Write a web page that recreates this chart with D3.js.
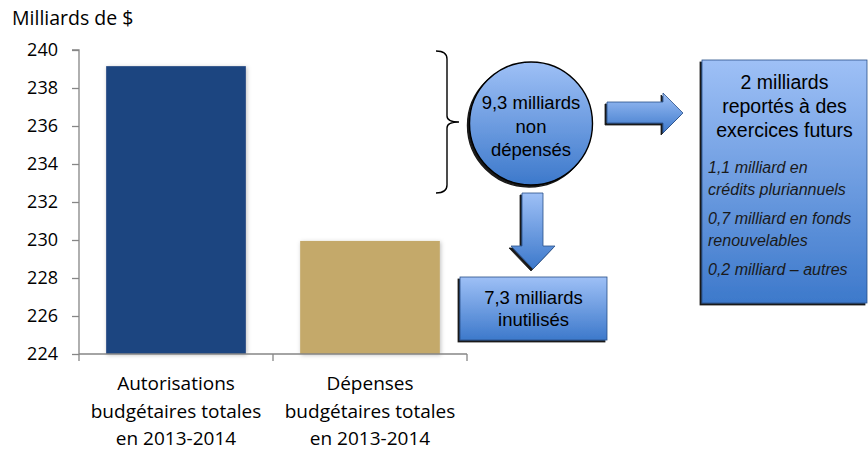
<!DOCTYPE html>
<html><head><meta charset="utf-8">
<script src="https://cdn.jsdelivr.net/npm/d3@7"></script>
<style>body{margin:0;background:#fff}svg{display:block}</style>
</head><body>
<svg id="c" width="868" height="453"></svg>
<script>
const categories = ["Autorisations budgétaires totales en 2013-2014", "Dépenses budgétaires totales en 2013-2014"];
const categoryLines = [["Autorisations", "budgétaires totales", "en 2013-2014"], ["Dépenses", "budgétaires totales", "en 2013-2014"]];
const values = [239.15, 229.95];
const barColors = ["#1F4480", "#C4A96B"];
const yTicks = [224, 226, 228, 230, 232, 234, 236, 238, 240];
const yTitle = "Milliards de $";
const circleText = ["9,3 milliards", "non", "dépensés"];
const unusedText = ["7,3 milliards", "inutilisés"];
const carriedTitle = ["2 milliards", "reportés à des", "exercices futurs"];
const carriedDetails = [["1,1 milliard en", "crédits pluriannuels"], ["0,7 milliard en fonds", "renouvelables"], ["0,2 milliard – autres"]];

const svg = d3.select("#c");
const defs = svg.append("defs");
const g1 = defs.append("linearGradient").attr("id","bg").attr("x1",0).attr("y1",0).attr("x2",0).attr("y2",1);
g1.append("stop").attr("offset","0%").attr("stop-color","#9EC0F6");
g1.append("stop").attr("offset","100%").attr("stop-color","#3D79CB");
const f1 = defs.append("filter").attr("id","sh").attr("x","-20%").attr("y","-20%").attr("width","140%").attr("height","140%");
f1.append("feDropShadow").attr("dx",-2).attr("dy",2).attr("stdDeviation",0.6).attr("flood-color","#000").attr("flood-opacity",0.9);
const f2 = defs.append("filter").attr("id","bsh").attr("x","-10%").attr("y","-10%").attr("width","120%").attr("height","120%");
f2.append("feDropShadow").attr("dx",1).attr("dy",1).attr("stdDeviation",2).attr("flood-color","#000").attr("flood-opacity",0.25);

const axisFont = "'Open Sans', 'Noto Sans', sans-serif";
const arial = "'Liberation Sans', Arial, sans-serif";

const x0 = 79, x1 = 467, yTop = 50, yBot = 354;
const y = d3.scaleLinear().domain([224, 240]).range([yBot, yTop]);
const x = d3.scaleBand().domain(categories).range([x0, x1]).paddingInner(0.28).paddingOuter(0.14);

// title
svg.append("text").attr("x", 12).attr("y", 25).attr("font-family", axisFont).attr("font-size", 19.5).attr("fill","#000").text(yTitle);

// bars
svg.selectAll("rect.bar").data(values).join("rect").attr("class","bar")
  .attr("x", (d,i)=>x(categories[i])).attr("width", x.bandwidth())
  .attr("y", d=>y(d)).attr("height", d=>yBot - y(d))
  .attr("fill", (d,i)=>barColors[i]).attr("filter","url(#bsh)");

// y axis
const ya = svg.append("g").attr("transform",`translate(${x0},0)`)
  .call(d3.axisLeft(y).tickValues(yTicks).tickSize(7).tickPadding(14).tickFormat(d3.format("d")));
ya.select(".domain").attr("stroke","#868686").attr("stroke-width",1.3).attr("d", `M-7,${yTop}H0V${yBot}`);
ya.selectAll(".tick line").attr("stroke","#868686").attr("stroke-width",1.3);
ya.selectAll(".tick text").attr("font-family", axisFont).attr("font-size", 18).attr("fill","#000");

// x axis
const xg = svg.append("g");
xg.append("line").attr("x1", x0).attr("x2", x1).attr("y1", yBot).attr("y2", yBot).attr("stroke","#868686").attr("stroke-width",1.3);
const boundaries = [x0, (x(categories[0]) + x.bandwidth() + x(categories[1]))/2, x1];
xg.selectAll("line.t").data(boundaries).join("line").attr("class","t")
  .attr("x1", d=>d).attr("x2", d=>d).attr("y1", yBot).attr("y2", yBot+7).attr("stroke","#868686").attr("stroke-width",1.3);
categoryLines.forEach((lines, i) => {
  const cx = x(categories[i]) + x.bandwidth()/2;
  const t = svg.append("text").attr("text-anchor","middle").attr("font-family", axisFont).attr("font-size", 19).attr("fill","#000");
  lines.forEach((l, j) => t.append("tspan").attr("x", cx).attr("y", 390 + j*27.5).text(l));
});

// brace
const bTop = y(240) + 1, bBot = 193, bMid = (bTop + bBot)/2, bx = 447;
svg.append("path").attr("fill","none").attr("stroke","#000").attr("stroke-width",1.4)
  .attr("d", `M436,${bTop} Q${bx},${bTop} ${bx},${bTop+8} L${bx},${bMid-6} Q${bx},${bMid} ${bx+12},${bMid} Q${bx},${bMid} ${bx},${bMid+6} L${bx},${bBot-8} Q${bx},${bBot} 436,${bBot}`);

// circle
const cx = 531, cy = 123.5, r = 61.5;
svg.append("circle").attr("cx",cx).attr("cy",cy).attr("r",r).attr("fill","url(#bg)").attr("stroke","#000").attr("stroke-width",1.4).attr("filter","url(#sh)");
const ct = svg.append("text").attr("text-anchor","middle").attr("font-family", arial).attr("font-size",18.5).attr("fill","#000");
circleText.forEach((l,j)=>ct.append("tspan").attr("x",cx).attr("y",109 + j*23.5).text(l));

// right arrow
svg.append("path").attr("fill","url(#bg)").attr("stroke","#2a4f88").attr("stroke-width",0.8).attr("filter","url(#sh)")
  .attr("d","M607,102 L663,102 L663,93 L683,113 L663,133 L663,123 L607,123 Z");

// down arrow
svg.append("path").attr("fill","url(#bg)").attr("stroke","#2a4f88").attr("stroke-width",0.8).attr("filter","url(#sh)")
  .attr("d","M522,193 L543,193 L543,246 L555,246 L533,269 L511,246 L522,246 Z");

// unused box
svg.append("rect").attr("x",460).attr("y",277).attr("width",147).attr("height",63).attr("fill","url(#bg)").attr("stroke","#2a4f88").attr("stroke-width",0.8).attr("filter","url(#sh)");
const ut = svg.append("text").attr("text-anchor","middle").attr("font-family", arial).attr("font-size",18.5).attr("fill","#000");
unusedText.forEach((l,j)=>ut.append("tspan").attr("x",533.5).attr("y",304 + j*22).text(l));

// carried forward box
svg.append("rect").attr("x",702).attr("y",60).attr("width",165).attr("height",243).attr("fill","url(#bg)").attr("stroke","#2a4f88").attr("stroke-width",0.8).attr("filter","url(#sh)");
const tt = svg.append("text").attr("text-anchor","middle").attr("font-family", arial).attr("font-size",19.5).attr("fill","#000");
carriedTitle.forEach((l,j)=>tt.append("tspan").attr("x",784.5).attr("y",89 + j*24).text(l));
const dt = svg.append("text").attr("font-family", arial).attr("font-size",16).attr("font-style","italic").attr("fill","#1a1a1a");
let yy = 173;
carriedDetails.forEach(group => {
  group.forEach((l, j) => { dt.append("tspan").attr("x",708).attr("y",yy).text(l); yy += 22; });
  yy += 7;
});
</script>
</body></html>
